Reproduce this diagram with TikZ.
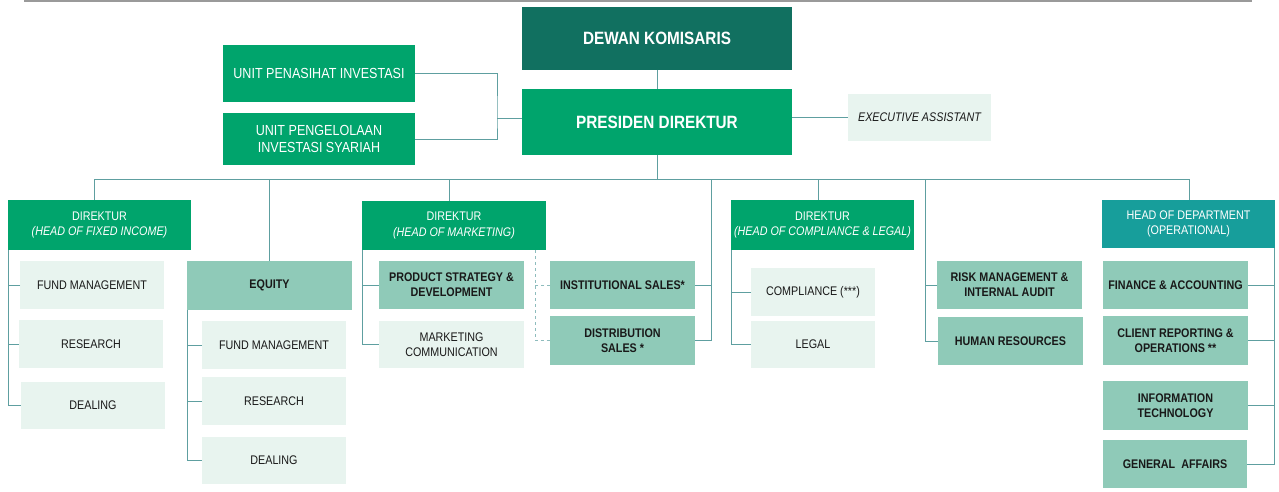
\documentclass[tikz,border=0pt]{standalone}
\usepackage{fontspec}
\setmainfont{Liberation Sans}[FakeStretch=0.86]
\definecolor{dk}{RGB}{17,112,96}
\definecolor{gr}{RGB}{0,164,108}
\definecolor{tl}{RGB}{23,158,155}
\definecolor{md}{RGB}{143,202,184}
\definecolor{lt}{RGB}{232,244,239}
\definecolor{ln}{RGB}{94,159,160}
\definecolor{txt}{RGB}{25,25,25}
\definecolor{topgrey}{RGB}{154,154,154}
\tikzset{
  bx/.style={anchor=north west, inner sep=0pt, outer sep=0pt, align=center, font=\fontsize{12.5}{15.5}\selectfont},
  dkbox/.style={bx, fill=dk, text=white, font=\fontsize{17.8}{20}\selectfont\bfseries},
  grbox/.style={bx, fill=gr, text=white},
  tlbox/.style={bx, fill=tl, text=white},
  mdbox/.style={bx, fill=md, text=txt, font=\fontsize{12.5}{15}\selectfont\bfseries},
  ltbox/.style={bx, fill=lt, text=txt},
  conn/.style={draw=ln, line width=0.8pt},
  dconn/.style={draw=ln!70, line width=0.7pt, dash pattern=on 3pt off 3pt},
  topln/.style={draw=topgrey, line width=1.5pt},
}
\newcommand{\obox}[7]{\node[#2,minimum width={(#5)-(#3)},minimum height={(#6)-(#4)}] (#1) at (#3,#4) {#7};}
\begin{document}
\begin{tikzpicture}[x=1pt,y=-1pt]
\fill[white] (0,0) rectangle (1279,492);
\useasboundingbox (0,0) rectangle (1279,492);
\coordinate (tl0) at (24,1);
\coordinate (tl1) at (1252,1);
\draw[topln] (tl0) -- (tl1);
% top level
\obox{dk}{dkbox}{522}{7}{792}{70}{DEWAN KOMISARIS}
\obox{pres}{dkbox,fill=gr}{522}{89}{792}{155}{PRESIDEN DIREKTUR}
\obox{upi}{grbox,font=\fontsize{14.6}{17.5}\selectfont}{223}{45}{415}{102}{UNIT PENASIHAT INVESTASI}
\obox{upis}{grbox,font=\fontsize{14.6}{17.5}\selectfont}{223}{113}{415}{165}{UNIT PENGELOLAAN\\INVESTASI SYARIAH}
\obox{ea}{ltbox,font=\fontsize{12.5}{15}\selectfont\itshape}{848}{94}{991}{141}{EXECUTIVE ASSISTANT}
% fixed income
\obox{dfi}{grbox}{8}{200}{191}{250}{DIREKTUR\\\textit{(HEAD OF FIXED INCOME)}}
\obox{fm1}{ltbox}{20}{261}{164}{309}{FUND MANAGEMENT}
\obox{rs1}{ltbox}{19}{320}{163}{368}{RESEARCH}
\obox{dl1}{ltbox}{21}{382}{165}{429}{DEALING}
% equity
\obox{eq}{mdbox}{187}{261}{352}{310}{EQUITY}
\obox{fm2}{ltbox}{202}{321}{346}{369}{FUND MANAGEMENT}
\obox{rs2}{ltbox}{202}{377}{346}{425}{RESEARCH}
\obox{dl2}{ltbox}{202}{437}{346}{484}{DEALING}
% marketing
\obox{dmk}{grbox}{362}{201}{546}{250}{DIREKTUR\\\textit{(HEAD OF MARKETING)}}
\obox{ps}{mdbox}{379}{261}{524}{309}{PRODUCT STRATEGY \&\\DEVELOPMENT}
\obox{mc}{ltbox}{379}{321}{524}{368}{MARKETING\\COMMUNICATION}
\obox{is}{mdbox}{550}{261}{695}{309}{INSTITUTIONAL SALES*}
\obox{ds}{mdbox}{550}{316}{695}{365}{DISTRIBUTION\\SALES *}
% compliance
\obox{dcl}{grbox}{731}{200}{914}{250}{DIREKTUR\\\textit{(HEAD OF COMPLIANCE \& LEGAL)}}
\obox{cp}{ltbox}{751}{268}{875}{316}{COMPLIANCE (***)}
\obox{lg}{ltbox}{751}{321}{875}{368}{LEGAL}
% risk / hr
\obox{rm}{mdbox}{937}{261}{1082}{309}{RISK MANAGEMENT \&\\INTERNAL AUDIT}
\obox{hr}{mdbox}{938}{317}{1083}{365}{HUMAN RESOURCES}
% operational
\obox{hod}{tlbox}{1102}{200}{1275}{248}{HEAD OF DEPARTMENT\\(OPERATIONAL)}
\obox{fa}{mdbox}{1103}{261}{1248}{309}{FINANCE \& ACCOUNTING}
\obox{cr}{mdbox}{1103}{316}{1248}{365}{CLIENT REPORTING \&\\OPERATIONS **}
\obox{it}{mdbox}{1103}{381}{1248}{430}{INFORMATION\\TECHNOLOGY}
\obox{ga}{mdbox}{1103}{440}{1247}{488}{GENERAL\ \ AFFAIRS}
% connectors top
\draw[conn] (dk.south) -- (pres.north);
\coordinate (brk) at (497,118);
\draw[conn] (upi.east) -| (brk) |- (upis.east);
\draw[conn] (brk) -- (brk -| pres.west);
\draw[conn] (ea.west -| pres.east) -- (ea.west);
% bus
\coordinate (b1) at (94,179);
\coordinate (b2) at (269,179);
\coordinate (b3) at (449,179);
\coordinate (b4) at (711,179);
\coordinate (b5) at (818,179);
\coordinate (b6) at (925,179);
\coordinate (b7) at (1189,179);
\draw[conn] (pres.south) -- (pres.south |- b1);
\draw[conn] (b1) -- (b7);
\draw[conn] (b1) -- (b1 |- dfi.north);
\draw[conn] (b2) -- (b2 |- eq.north);
\draw[conn] (b3) -- (b3 |- dmk.north);
\draw[conn] (b4) |- (ds.east);
\draw[conn] (is.east) -- (is.east -| b4);
\draw[conn] (b5) -- (b5 |- dcl.north);
\draw[conn] (b6) |- (hr.west);
\draw[conn] (rm.west) -- (rm.west -| b6);
\draw[conn] (b7) -- (b7 |- hod.north);
% fixed income children
\draw[conn] (dfi.south west) |- (dl1.west);
\draw[conn] (fm1.west) -- (fm1.west -| dfi.south west);
\draw[conn] (rs1.west) -- (rs1.west -| dfi.south west);
% equity children
\draw[conn] (eq.south west) |- (dl2.west);
\draw[conn] (fm2.west) -- (fm2.west -| eq.south west);
\draw[conn] (rs2.west) -- (rs2.west -| eq.south west);
% marketing children
\draw[conn] (dmk.south west) |- (mc.west);
\draw[conn] (ps.west) -- (ps.west -| dmk.south west);
\coordinate (dsh) at (535,250);
\draw[dconn] (dsh) |- (ds.west);
\draw[dconn] (is.west) -- (is.west -| dsh);
% compliance children
\draw[conn] (dcl.south west) |- (lg.west);
\draw[conn] (cp.west) -- (cp.west -| dcl.south west);
% operational children
\coordinate (hr0) at (1274,248);
\draw[conn] (hr0) |- (ga.east);
\draw[conn] (fa.east) -- (fa.east -| hr0);
\draw[conn] (cr.east) -- (cr.east -| hr0);
\draw[conn] (it.east) -- (it.east -| hr0);
\end{tikzpicture}
\end{document}
